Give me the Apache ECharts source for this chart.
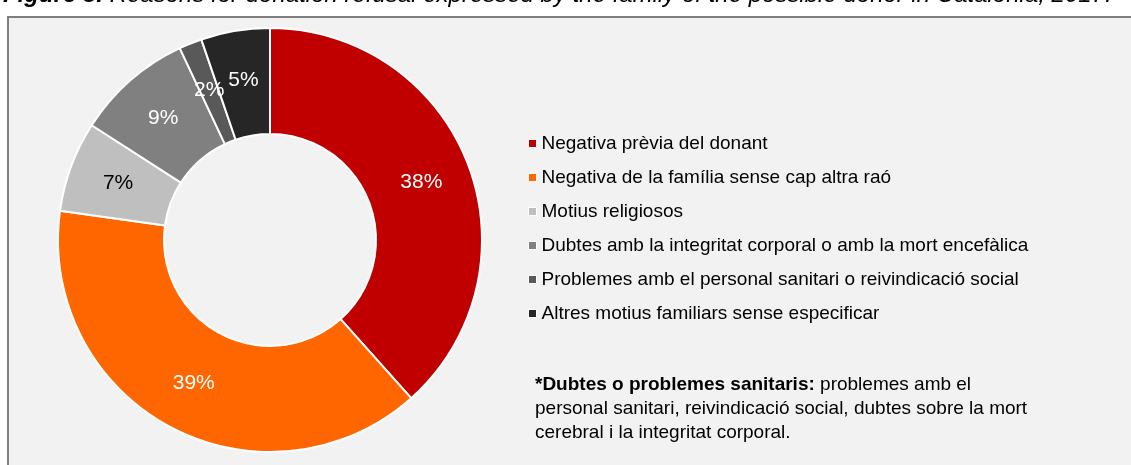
<!DOCTYPE html>
<html>
<head>
<meta charset="utf-8">
<script src="https://cdn.jsdelivr.net/npm/echarts@6/dist/echarts.min.js"></script>
<style>html,body{margin:0;padding:0;background:#fff;}#c{width:1131px;height:465px;}</style>
</head>
<body>
<div id="c"></div>
<script>
const categories = [
  'Negativa prèvia del donant',
  'Negativa de la família sense cap altra raó',
  'Motius religiosos',
  'Dubtes amb la integritat corporal o amb la mort encefàlica',
  'Problemes amb el personal sanitari o reivindicació social',
  'Altres motius familiars sense especificar'
];
const values = [38.4, 38.8, 6.9, 8.9, 1.75, 5.25];
const colors = ['#C00000', '#FF6600', '#BFBFBF', '#808080', '#595959', '#262626'];
const labelColors = ['#fff', '#fff', '#000', '#fff', '#fff', '#fff'];
const titleBold = 'Figure 3.';
const titleRest = ' Reasons for donation refusal expressed by the family of the possible donor in Catalonia, 2017.';
const noteBold = '*Dubtes o problemes sanitaris:';
const noteLines = [' problemes amb el', 'personal sanitari, reivindicació social, dubtes sobre la mort', 'cerebral i la integritat corporal.'];

const FONT = '"Liberation Sans", Arial, sans-serif';
const chart = echarts.init(document.getElementById('c'), null, {renderer: 'canvas'});
chart.setOption({
  backgroundColor: '#ffffff',
  animation: false,
  color: colors,
  graphic: [
    {type: 'rect', z: 0, shape: {x: 8, y: 17, width: 1140, height: 470},
     style: {fill: '#f2f2f2', stroke: '#7f7f7f', lineWidth: 2}},
    {type: 'text', z: 5, x: 3, y: -17,
     style: {text: '{b|' + titleBold + '}{n|' + titleRest + '}', fill: '#000',
       rich: {b: {fontFamily: FONT, fontSize: 24, fontStyle: 'italic', fontWeight: 'bold', fill: '#000'},
              n: {fontFamily: FONT, fontSize: 24, fontStyle: 'italic', fill: '#000'}}}},
    {type: 'text', z: 5, x: 535, y: 373,
     style: {text: '{b|' + noteBold + '}{n|' + noteLines[0] + '}\n{n|' + noteLines[1] + '}\n{n|' + noteLines[2] + '}',
       fill: '#000',
       rich: {b: {fontFamily: FONT, fontSize: 19, fontWeight: 'bold', fill: '#000', lineHeight: 24},
              n: {fontFamily: FONT, fontSize: 19, fill: '#000', lineHeight: 24}}}}
  ],
  legend: {
    orient: 'vertical', left: 523, top: 129,
    itemWidth: 8, itemHeight: 8, itemGap: 15,
    icon: 'rect',
    itemStyle: {borderColor: '#ffffff', borderWidth: 1},
    textStyle: {fontFamily: FONT, fontSize: 19, color: '#000'},
    data: categories
  },
  series: [{
    type: 'pie', z: 3,
    center: [270, 240], radius: [106, 212],
    startAngle: 90, clockwise: true,
    avoidLabelOverlap: false,
    itemStyle: {borderColor: '#ffffff', borderWidth: 2},
    label: {position: 'inside', fontFamily: FONT, fontSize: 21,
      formatter: p => Math.round(p.percent) + '%'},
    labelLine: {show: false},
    emphasis: {disabled: true},
    data: categories.map((c, i) => ({name: c, value: values[i], label: {color: labelColors[i]}}))
  }]
});
</script>
</body>
</html>
